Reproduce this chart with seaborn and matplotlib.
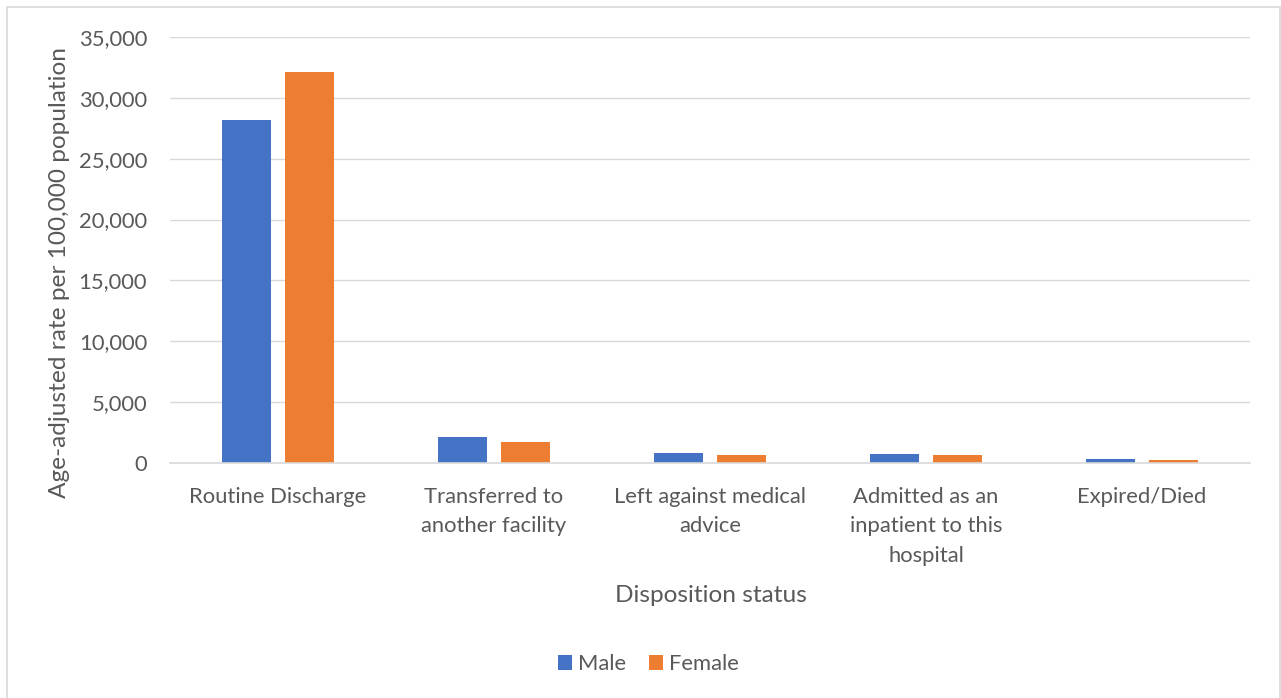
import pandas as pd
import matplotlib.pyplot as plt
import seaborn as sns
from matplotlib.patches import Rectangle
from matplotlib.ticker import FuncFormatter

categories = ["Routine Discharge", "Transferred to\nanother facility", "Left against medical\nadvice",
              "Admitted as an\ninpatient to this\nhospital", "Expired/Died"]
male = [28200, 2160, 820, 760, 350]
female = [32100, 1750, 680, 680, 270]

df = pd.DataFrame({
    "Disposition status": categories * 2,
    "rate": male + female,
    "sex": ["Male"] * len(male) + ["Female"] * len(female),
})

sns.set_style("white")
plt.rcParams['font.family'] = ['Lato', 'DejaVu Sans']
text_col = "#595959"

fig = plt.figure(figsize=(12.81, 6.98), dpi=100)
ax = fig.add_axes([0.1327, 0.3367, 0.8431, 0.6103])

sns.barplot(data=df, x="Disposition status", y="rate", hue="sex",
            palette={"Male": "#4472C4", "Female": "#ED7D31"}, saturation=1,
            width=0.579, gap=0.216, linewidth=0, ax=ax, legend=True)

ax.set_ylim(0, 35000)
ax.set_xlim(-0.5, 4.5)
ax.set_yticks(range(0, 35001, 5000))
ax.yaxis.set_major_formatter(FuncFormatter(lambda v, p: f"{int(v):,}"))
ax.grid(axis="y", color="#d9d9d9", linewidth=1)
ax.set_axisbelow(True)
for s in ["top", "right", "left"]:
    ax.spines[s].set_visible(False)
ax.spines["bottom"].set_color("#d9d9d9")
ax.spines["bottom"].set_linewidth(1.2)
ax.tick_params(axis="both", length=0, labelsize=15.8, colors=text_col)
ax.tick_params(axis="x", pad=17)
ax.tick_params(axis="y", pad=16.5)
for lab in ax.get_xticklabels():
    lab.set_verticalalignment("top")
    lab.set_linespacing(1.6)

ax.set_xlabel("Disposition status", fontsize=17.6, color=text_col, va="center")
ax.xaxis.set_label_coords(0.501, -0.312)
ax.set_ylabel("Age-adjusted rate per 100,000 population", fontsize=17.6, color=text_col, va="center")
ax.yaxis.set_label_coords(-0.102, 0.448)

ax.legend(loc="center", bbox_to_anchor=(0.443, -0.472), ncol=2, frameon=False,
          fontsize=15.8, handlelength=0.65, handleheight=0.65, handletextpad=0.3,
          columnspacing=1.0, labelcolor=text_col)

fig.patches.append(Rectangle((7 / 1281, -0.01), 1273 / 1281, 1 - 7 / 698 + 0.01,
                             transform=fig.transFigure, fill=False,
                             edgecolor="#d9d9d9", linewidth=1.2))

fig.savefig("out.png", dpi=100)
